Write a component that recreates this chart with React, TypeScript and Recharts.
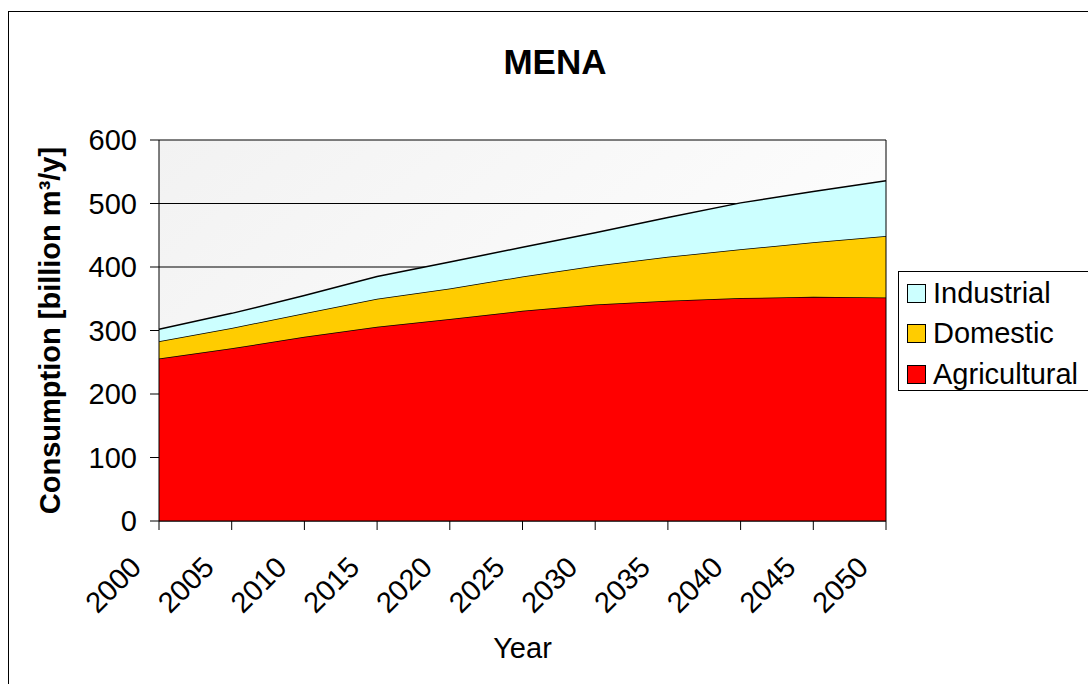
import { AreaChart, Area, XAxis, YAxis, CartesianGrid, Legend, ReferenceLine } from "recharts";

const years = [2000, 2005, 2010, 2015, 2020, 2025, 2030, 2035, 2040, 2045, 2050];
const agricultural = [256, 272, 290, 306, 318, 331, 341, 347, 351, 353, 352];
const domestic = [27, 32, 37, 44, 48, 54, 61, 69, 77, 86, 97];
const industrial = [19, 23, 28, 35, 42, 46, 52, 62, 73, 80, 87];
const yTicks = [0, 100, 200, 300, 400, 500, 600];

const legendItems = [
  { name: "Industrial", color: "#CCFFFF" },
  { name: "Domestic", color: "#FFCC00" },
  { name: "Agricultural", color: "#FF0000" },
];

const data = years.map((year, i) => ({
  year,
  agricultural: agricultural[i],
  domestic: domestic[i],
  industrial: industrial[i],
}));

const font = "'Liberation Sans', Arial, sans-serif";

// label end point sits left of the tick, well below the axis
function YearTick({ x, y, payload }: any) {
  return (
    <g transform={`translate(${x},${y})`}>
      <text
        x={-16}
        y={39}
        textAnchor="end"
        transform="rotate(-45 -16 39)"
        fontSize={29}
        fontFamily={font}
        fill="#000"
      >
        {payload.value}
      </text>
    </g>
  );
}

function LegendBox() {
  return (
    <div
      style={{
        border: "1px solid #000",
        background: "#fff",
        height: 117,
        padding: "1px 0 0 8px",
        fontFamily: font,
        fontSize: 29,
        color: "#000",
      }}
    >
      {legendItems.map((item) => (
        <div key={item.name} style={{ height: 40.5, display: "flex", alignItems: "center" }}>
          <span
            style={{
              width: 17,
              height: 17,
              border: "1px solid #000",
              background: item.color,
              marginRight: 7,
              display: "inline-block",
            }}
          />
          <span style={{ lineHeight: "33px" }}>{item.name}</span>
        </div>
      ))}
    </div>
  );
}

export default function App() {
  return (
    <div style={{ position: "fixed", left: 0, top: 0, width: 1088, height: 684, overflow: "hidden", background: "#fff" }}>
      <div style={{ position: "absolute", left: 8, top: 11, width: 1092, height: 690, border: "1px solid #000" }}>
        <div
          style={{
            position: "absolute",
            left: 0,
            top: 30,
            width: 1092,
            textAlign: "center",
            fontFamily: font,
            fontWeight: 700,
            fontSize: 35,
            lineHeight: "40px",
            zIndex: 2,
          }}
        >
          MENA
        </div>
        <AreaChart width={1092} height={680} data={data} margin={{ top: 128, right: 215, left: 0, bottom: 21 }}>
          <defs>
            <linearGradient id="plotBg" x1="0" y1="0" x2="1" y2="0.6">
              <stop offset="0%" stopColor="#f2f2f2" />
              <stop offset="100%" stopColor="#ffffff" />
            </linearGradient>
          </defs>
          <CartesianGrid fill="url(#plotBg)" stroke="#000" strokeWidth={1} vertical={false} />
          <XAxis
            dataKey="year"
            type="number"
            domain={[2000, 2050]}
            ticks={years}
            tick={<YearTick />}
            tickSize={9}
            tickMargin={0}
            height={150}
            stroke="#000"
            interval={0}
            label={{ value: "Year", position: "insideBottom", offset: 13, fontSize: 29, fontFamily: font, fill: "#000" }}
          />
          <YAxis
            domain={[0, 600]}
            ticks={yTicks}
            width={150}
            tickSize={9}
            tickMargin={13}
            stroke="#000"
            tick={{ fontSize: 29, fontFamily: font, fill: "#000" }}
            label={{
              value: "Consumption [billion m³/y]",
              angle: -90,
              position: "insideLeft",
              offset: 41,
              fontSize: 29,
              fontWeight: 700,
              fontFamily: font,
              fill: "#000",
              style: { textAnchor: "middle" },
            }}
          />
          <Area type="linear" dataKey="agricultural" name="Agricultural" stackId="1" fill="#FF0000" fillOpacity={1} stroke="#000" strokeWidth={1.5} isAnimationActive={false} />
          <Area type="linear" dataKey="domestic" name="Domestic" stackId="1" fill="#FFCC00" fillOpacity={1} stroke="#000" strokeWidth={1.5} isAnimationActive={false} />
          <Area type="linear" dataKey="industrial" name="Industrial" stackId="1" fill="#CCFFFF" fillOpacity={1} stroke="#000" strokeWidth={1.5} isAnimationActive={false} />
          <ReferenceLine x={2050} stroke="#000" strokeWidth={1} />
          <Legend
            layout="vertical"
            align="center"
            verticalAlign="middle"
            content={<LegendBox />}
            wrapperStyle={{ left: 889, top: 259, width: 200 }}
          />
        </AreaChart>
      </div>
    </div>
  );
}
